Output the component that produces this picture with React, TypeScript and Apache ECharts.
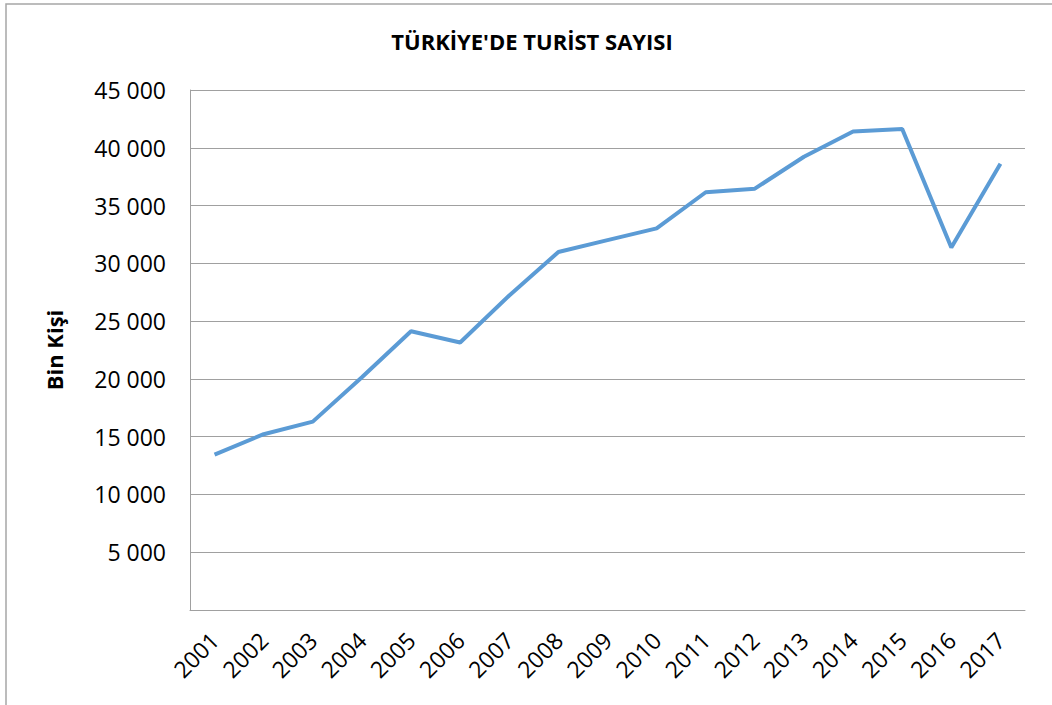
import React, { useEffect, useRef } from "react";
import * as echarts from "echarts";

const years = ["2001","2002","2003","2004","2005","2006","2007","2008","2009","2010","2011","2012","2013","2014","2015","2016","2017"];
const tourists = [13450, 15214, 16302, 20137, 24125, 23149, 27215, 30980, 32006, 33027, 36151, 36463, 39226, 41415, 41617, 31365, 38620];
const titleText = "TÜRKİYE'DE TURİST SAYISI";
const yAxisTitle = "Bin Kişi";

const fmt = (v: number) => {
  if (v === 0) return "";
  const s = String(v);
  return s.length > 3 ? s.slice(0, s.length - 3) + " " + s.slice(-3) : s;
};

export default function App() {
  const ref = useRef<HTMLDivElement>(null);
  useEffect(() => {
    if (!ref.current) return;
    const chart = echarts.init(ref.current, null, { renderer: "svg" });
    chart.setOption({
      animation: false,
      backgroundColor: "#ffffff",
      title: {
        text: titleText,
        left: 527,
        top: 25,
        textAlign: "center",
        textStyle: { fontFamily: "Open Sans", fontWeight: "bold", fontSize: 22, color: "#000" },
      },
      graphic: [
        {
          type: "rect",
          shape: { x: 6, y: 4, width: 1200, height: 1000 },
          style: { fill: "none", stroke: "#a6a6a6", lineWidth: 1.5 },
          silent: true,
        },
      ],
      grid: { left: 190, right: 27, top: 90, bottom: 95 },
      xAxis: {
        type: "category",
        data: years,
        boundaryGap: true,
        axisLine: { show: true, lineStyle: { color: "#a0a0a0", width: 1 } },
        axisTick: { show: false },
        axisLabel: {
          rotate: 45,
          margin: 26,
          interval: 0,
          fontFamily: "Open Sans",
          fontSize: 23,
          color: "#000",
        },
      },
      yAxis: {
        type: "value",
        min: 0,
        max: 45000,
        interval: 5000,
        name: yAxisTitle,
        nameLocation: "middle",
        nameGap: 125,
        nameRotate: 90,
        nameTextStyle: { fontFamily: "Open Sans", fontWeight: "bold", fontSize: 22, color: "#000" },
        axisLine: { show: true, lineStyle: { color: "#a0a0a0", width: 1 } },
        axisTick: { show: false },
        splitLine: { lineStyle: { color: "#a0a0a0", width: 1 } },
        axisLabel: {
          formatter: fmt,
          margin: 24,
          fontFamily: "Open Sans",
          fontSize: 23,
          color: "#000",
        },
      },
      series: [
        {
          type: "line",
          data: tourists,
          symbol: "none",
          lineStyle: { color: "#5B9BD5", width: 4 },
        },
      ],
    });
    return () => chart.dispose();
  }, []);
  return (
    <div
      ref={ref}
      style={{ position: "fixed", left: 0, top: 0, width: 1052, height: 705 }}
    />
  );
}
